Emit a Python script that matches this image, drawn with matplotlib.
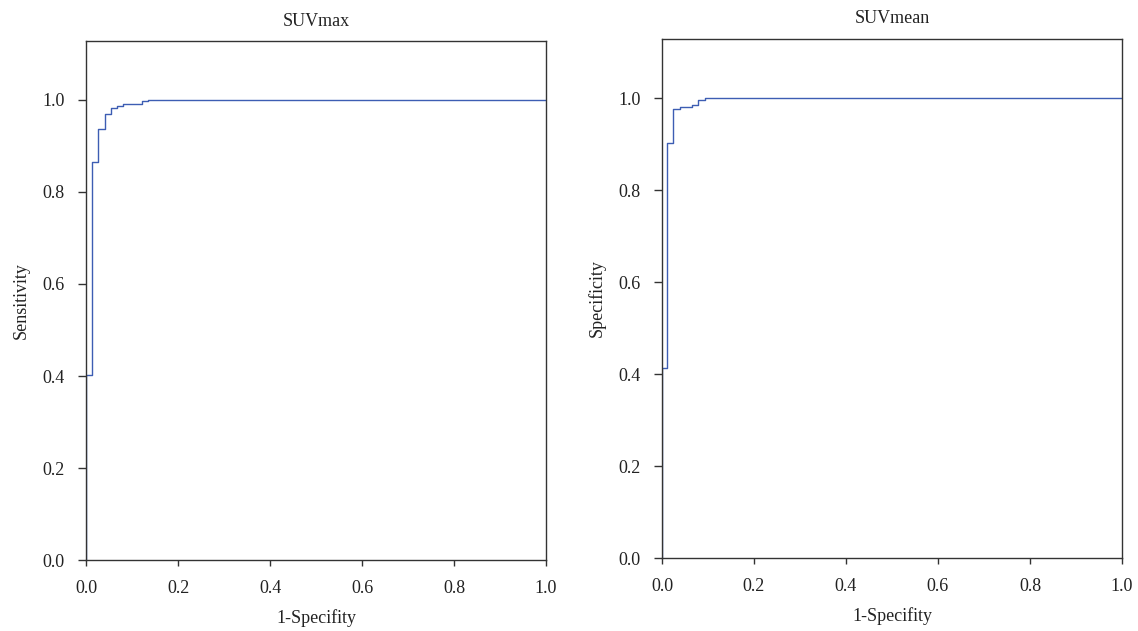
import matplotlib
matplotlib.use("Agg")
import matplotlib.pyplot as plt

plt.rcParams['font.family'] = ['Liberation Serif', 'DejaVu Serif']

# SUVmax ROC (1-specificity, sensitivity)
fpr_max = [0.0, 0.0, 0.0137, 0.027, 0.041, 0.054, 0.067, 0.081, 0.122, 0.135, 1.0]
tpr_max = [0.0, 0.403, 0.865, 0.936, 0.968, 0.981, 0.986, 0.991, 0.996, 1.0, 1.0]

# SUVmean ROC
fpr_mean = [0.0, 0.0, 0.011, 0.0247, 0.0385, 0.065, 0.079, 0.093, 1.0]
tpr_mean = [0.0, 0.4145, 0.904, 0.977, 0.982, 0.986, 0.9957, 1.0, 1.0]

titles = ["SUVmax", "SUVmean"]
xlabels = ["1-Specifity", "1-Specifity"]
ylabels = ["Sensitivity", "Specificity"]
ticks = [0.0, 0.2, 0.4, 0.6, 0.8, 1.0]
tick_labels = ["0.0", "0.2", "0.4", "0.6", "0.8", "1.0"]

fig = plt.figure(figsize=(11.38, 6.31), dpi=100)
positions = [[0.0756, 0.112, 0.4042, 0.823], [0.5817, 0.1152, 0.4042, 0.8235]]
ylims = [1.127, 1.13]
data = [(fpr_max, tpr_max), (fpr_mean, tpr_mean)]

line_color = "#3d5db3"
spine_color = "#333333"
fs = 13

for i in range(2):
    ax = fig.add_axes(positions[i])
    x, y = data[i]
    ax.step(x, y, where='post', color=line_color, lw=1.0)
    ax.set_xlim(0, 1.0)
    ax.set_ylim(0, ylims[i])
    ax.set_xticks(ticks)
    ax.set_xticklabels(tick_labels)
    ax.set_yticks(ticks)
    ax.set_yticklabels(tick_labels)
    for s in ax.spines.values():
        s.set_color(spine_color)
        s.set_linewidth(1.0)
    ax.tick_params(axis='x', direction='out', length=4.5, width=1.0, color=spine_color,
                   labelsize=fs, pad=9.5, labelcolor="#222222")
    ax.tick_params(axis='y', direction='out', length=6, width=1.0, color=spine_color,
                   labelsize=fs, pad=9.5, labelcolor="#222222")
    ax.set_title(titles[i], fontsize=fs, pad=11, color="#222222")
    ax.set_xlabel(xlabels[i], fontsize=fs, labelpad=9, color="#222222")
    ax.set_ylabel(ylabels[i], fontsize=fs, labelpad=9, color="#222222")

fig.savefig("out.png", dpi=100)
